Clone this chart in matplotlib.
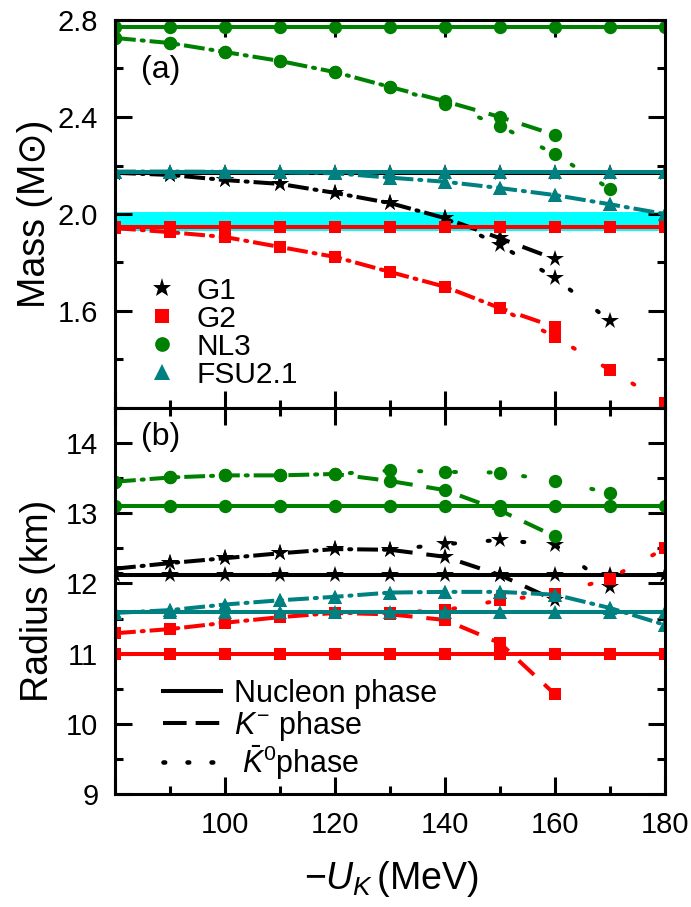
import matplotlib
matplotlib.use('Agg')
import matplotlib.pyplot as plt
from matplotlib.lines import Line2D
from matplotlib.ticker import MultipleLocator

plt.rcParams['font.family'] = ['Liberation Sans', 'DejaVu Sans']
plt.rcParams['mathtext.fontset'] = 'custom'
plt.rcParams['mathtext.rm'] = 'Liberation Sans'
plt.rcParams['mathtext.it'] = 'Liberation Sans:italic'
plt.rcParams['lines.scale_dashes'] = False

# ---------------- data ----------------
u_k = [80, 90, 100, 110, 120, 130, 140, 150, 160, 170, 180]
models = ['G1', 'G2', 'NL3', 'FSU2.1']
colors = ['black', '#ff0000', '#008000', '#008080']
markers = ['*', 's', 'o', '^']
msizes = [13, 8.5, 9.6, 10]

mass_nucleon = [2.17, 1.945, 2.77, 2.175]
radius_nucleon = [12.12, 11.0, 13.11, 11.59]

# K^- phase (dashed) masses
g1_mass_km = [2.17, 2.161, 2.14, 2.124, 2.087, 2.045, 1.983, 1.90, 1.814]
g2_mass_km = [1.942, 1.925, 1.905, 1.864, 1.823, 1.761, 1.70, 1.612, 1.534]
nl3_mass_km = [2.726, 2.705, 2.668, 2.631, 2.585, 2.524, 2.465, 2.40, 2.326]
fsu_mass_km = [2.175, 2.175, 2.174, 2.172, 2.168, 2.15, 2.133, 2.107, 2.078, 2.04, 2.0]
# K0bar phase (dotted) masses
g1_mass_k0 = [2.17, 2.161, 2.14, 2.124, 2.087, 2.045, 1.983, 1.872, 1.736, 1.559]
g2_mass_k0 = [1.942, 1.925, 1.905, 1.864, 1.823, 1.761, 1.70, 1.612, 1.493, 1.357, 1.22]
nl3_mass_k0 = [2.726, 2.705, 2.668, 2.631, 2.585, 2.524, 2.455, 2.363, 2.247, 2.103]
fsu_mass_k0 = [2.175, 2.175, 2.174, 2.172, 2.168, 2.15, 2.133, 2.107, 2.078, 2.04, 2.0]

# K^- phase (dashed) radii
g1_rad_km = [12.21, 12.29, 12.36, 12.43, 12.49, 12.48, 12.38, 12.12, 11.76]
g2_rad_km = [11.29, 11.35, 11.44, 11.52, 11.58, 11.56, 11.48, 11.15, 10.42]
nl3_rad_km = [13.45, 13.51, 13.54, 13.54, 13.56, 13.46, 13.33, 13.04, 12.67]
fsu_rad_km = [11.58, 11.62, 11.70, 11.76, 11.81, 11.87, 11.88, 11.88, 11.84, 11.65, 11.41]
# K0bar phase (dotted) radii
g1_rad_k0 = [12.21, 12.29, 12.36, 12.43, 12.49, 12.48, 12.56, 12.62, 12.55, 11.95]
g2_rad_k0 = [11.29, 11.35, 11.44, 11.52, 11.58, 11.58, 11.62, 11.76, 11.85, 12.07, 12.5]
nl3_rad_k0 = [13.45, 13.51, 13.54, 13.54, 13.56, 13.61, 13.59, 13.58, 13.46, 13.29]
fsu_rad_k0 = [11.58, 11.62, 11.70, 11.76, 11.81, 11.87, 11.88, 11.88, 11.84, 11.65, 11.41]

band_low, band_high = 1.93, 2.01

mass_km = [g1_mass_km, g2_mass_km, nl3_mass_km, fsu_mass_km]
mass_k0 = [g1_mass_k0, g2_mass_k0, nl3_mass_k0, fsu_mass_k0]
rad_km = [g1_rad_km, g2_rad_km, nl3_rad_km, fsu_rad_km]
rad_k0 = [g1_rad_k0, g2_rad_k0, nl3_rad_k0, fsu_rad_k0]

# ---------------- figure ----------------
W, H = 691, 907
fig = plt.figure(figsize=(W / 100, H / 100), dpi=100)
ax1 = fig.add_axes([115 / W, 1 - 408 / H, 550 / W, 388 / H])
ax2 = fig.add_axes([115 / W, 1 - 794 / H, 550 / W, 386 / H])

LW = 2.9
DASH_ON, DASH_OFF = 15.0, 10.0
PERIOD = DASH_ON + DASH_OFF
DOT_LEN = 1.5
DASH = (0, (DASH_ON, DASH_OFF))
DOT = (PERIOD - (DASH_ON + DASH_OFF / 2 - DOT_LEN / 2), (DOT_LEN, PERIOD - DOT_LEN))


def draw(ax, nuc, km, k0):
    for i in range(4):
        c, m, ms = colors[i], markers[i], msizes[i]
        ax.plot(u_k, [nuc[i]] * len(u_k), color=c, lw=LW, marker=m, ms=ms,
                mew=0, solid_capstyle='butt', zorder=3)
        ax.plot(u_k[:len(km[i])], km[i], color=c, lw=LW, linestyle=DASH,
                marker=m, ms=ms, mew=0, dash_capstyle='butt', zorder=3)
        ax.plot(u_k[:len(k0[i])], k0[i], color=c, lw=LW, linestyle=DOT,
                marker=m, ms=ms, mew=0, dash_capstyle='round', zorder=3)


ax1.axhspan(band_low, band_high, color='#00ffff', lw=0, zorder=1)
draw(ax1, mass_nucleon, mass_km, mass_k0)
draw(ax2, radius_nucleon, rad_km, rad_k0)

ax1.set_xlim(80, 180)
ax2.set_xlim(80, 180)
ax1.set_ylim(1.2, 2.8)
ax2.set_ylim(9, 14.5)

for ax in (ax1, ax2):
    ax.xaxis.set_major_locator(MultipleLocator(20))
    ax.xaxis.set_minor_locator(MultipleLocator(10))
    ax.tick_params(which='both', direction='in', top=True, right=True,
                   width=2.2, labelsize=21)
    ax.tick_params(which='major', length=12)
    ax.tick_params(which='minor', length=6)
    ax.tick_params(axis='y', which='major', pad=12)
    ax.tick_params(axis='x', which='major', pad=12)
    for s in ax.spines.values():
        s.set_linewidth(2.2)
        s.set_zorder(5)

ax1.set_yticks([1.6, 2.0, 2.4, 2.8])
ax1.set_yticklabels(['1.6', '2.0', '2.4', '2.8'])
ax1.yaxis.set_minor_locator(MultipleLocator(0.2))
ax1.tick_params(labelbottom=False)

ax2.set_yticks([9, 10, 11, 12, 13, 14])
ax2.yaxis.set_minor_locator(MultipleLocator(0.5))
ax2.set_xticks([80, 100, 120, 140, 160, 180])
ax2.set_xticklabels(['', '100', '120', '140', '160', '180'])

ax1.set_ylabel('Mass (M\u2299)', fontsize=27)
ax1.yaxis.set_label_coords(-0.112, 0.5)
ax2.set_ylabel('Radius (km)', fontsize=27)
ax2.yaxis.set_label_coords(-0.108, 0.5)
ax2.set_xlabel(r'$-U_K\,$(MeV)', fontsize=27, va='top')
ax2.xaxis.set_label_coords(0.502, -0.168)

ax1.text(0.048, 0.87, '(a)', transform=ax1.transAxes, fontsize=23, va='center')
ax2.text(0.048, 0.924, '(b)', transform=ax2.transAxes, fontsize=23, va='center')

# legends
h1 = [Line2D([], [], color=colors[i], marker=markers[i], ms=msizes[i] + 1,
             mew=0, linestyle='none') for i in range(4)]
ax1.legend(h1, models, loc='upper left', bbox_to_anchor=(0.058, 0.338),
           frameon=False, fontsize=21.5, handlelength=1.0,
           handletextpad=0.65, labelspacing=0.0, borderpad=0,
           borderaxespad=0)

h2 = [Line2D([], [], color='black', lw=LW, linestyle='-'),
      Line2D([], [], color='black', lw=LW, linestyle=(0, (17, 6.5))),
      Line2D([], [], color='black', lw=LW + 0.4, linestyle=(0, (1.2, 16.1)),
             dash_capstyle='round')]
ax2.legend(h2, ['Nucleon phase', r'$K^{-}$ phase', r' $\bar{K}^{0}$phase'],
           loc='upper left', bbox_to_anchor=(0.087, 0.298),
           frameon=False, fontsize=22, handlelength=1.9,
           handletextpad=0.42, labelspacing=0.0, borderpad=0,
           borderaxespad=0)

fig.savefig('out.png', dpi=100)
